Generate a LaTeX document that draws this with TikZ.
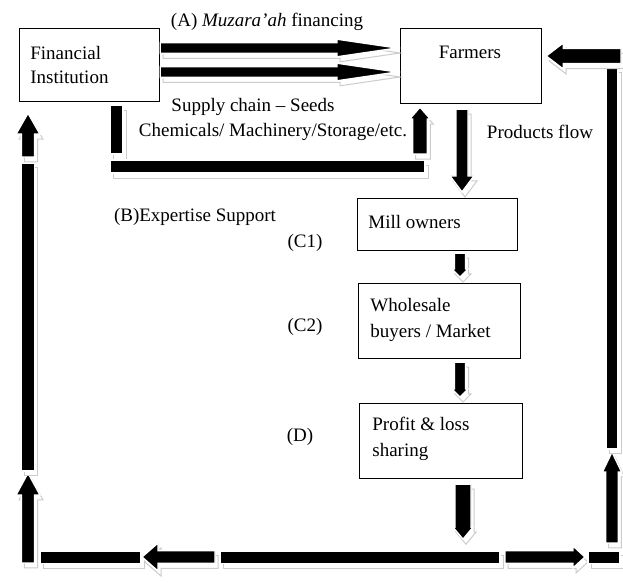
\documentclass[tikz,border=0pt]{standalone}
\usepackage{fontspec}
\setmainfont{Liberation Serif}
\usetikzlibrary{calc}
\tikzset{
  box/.style={draw, line width=0.6pt, inner sep=0pt, anchor=north west},
  lbl/.style={inner sep=0pt, font=\fontsize{9.5}{13}\selectfont},
  shadowline/.style={draw=gray!40, line width=0.5pt},
  blockfill/.style={fill=black, draw=white, line width=0.7pt},
}
% block arrow from #1 to tip #2: half shaft #3, half head #4, head length #5
\newcommand\blockarr[5]{%
  \coordinate (bah) at ($(#2)!#5!(#1)$);
  \begin{scope}[transform canvas={shift={(1.5pt,-2.5pt)}}]
    \draw[shadowline] ($(#1)!#3!90:(#2)$) -- ($(bah)!#3!90:(#2)$) -- ($(bah)!#4!90:(#2)$) -- (#2) -- ($(bah)!#4!-90:(#2)$) -- ($(bah)!#3!-90:(#2)$) -- ($(#1)!#3!-90:(#2)$) -- cycle;
  \end{scope}
  \filldraw[blockfill] ($(#1)!#3!90:(#2)$) -- ($(bah)!#3!90:(#2)$) -- ($(bah)!#4!90:(#2)$) -- (#2) -- ($(bah)!#4!-90:(#2)$) -- ($(bah)!#3!-90:(#2)$) -- ($(#1)!#3!-90:(#2)$) -- cycle;
}
% block bar between corners #1 and #2
\newcommand\blockbar[2]{%
  \begin{scope}[transform canvas={shift={(1.5pt,-2.5pt)}}]
    \draw[shadowline] (#1) rectangle (#2);
  \end{scope}
  \filldraw[blockfill] (#1) rectangle (#2);
}
\begin{document}
\begin{tikzpicture}[x=0.5pt, y=-0.5pt]
\useasboundingbox[fill=white] (0,0) rectangle (623,583);

% boxes
\node[box, minimum width=70pt, minimum height=36.5pt] (fi) at (19,28) {};
\node[box, minimum width=70.5pt, minimum height=37.5pt] (fa) at (400,28) {};
\node[box, minimum width=80pt, minimum height=26pt] (mo) at (357,198) {};
\node[box, minimum width=81pt, minimum height=37.5pt] (wb) at (358,283) {};
\node[box, minimum width=81.5pt, minimum height=37.5pt] (pl) at (359,403) {};

% box texts
\node[lbl, anchor=west, align=left, font=\fontsize{9.5}{12}\selectfont] (tfi) at (30,65) {Financial\\Institution};
\node[lbl] (tfa) at (470,52) {Farmers};
\node[lbl, anchor=west] (tmo) at (368,222) {Mill owners};
\node[lbl, anchor=west, align=left] (twb) at (370,320) {Wholesale\\buyers / Market};
\node[lbl, anchor=west, align=left] (tpl) at (372,438.5) {Profit \& loss\\sharing};

% free labels
\node[lbl] (la) at (267,22) {(A) \textit{Muzara’ah} financing};
\node[lbl] (ls1) at (253,107) {Supply chain – Seeds};
\node[lbl] (ls2) at (273,132) {Chemicals/ Machinery/Storage/etc.};
\node[lbl] (lp) at (540,132) {Products flow};
\node[lbl] (lb) at (195,217) {(B)Expertise Support};
\node[lbl] (lc1) at (305,243) {(C1)};
\node[lbl] (lc2) at (305,327) {(C2)};
\node[lbl] (ld) at (300,437) {(D)};

% (A) financing arrows
\coordinate (a1s) at ($(fi.north east)+(0,20)$);
\coordinate (a1e) at ($(fa.north west)+(-3,20)$);
\coordinate (a2s) at ($(fi.north east)+(0,44)$);
\coordinate (a2e) at ($(fa.north west)+(-3,44)$);
\blockarr{a1s}{a1e}{2.7pt}{4.4pt}{30pt}
\blockarr{a2s}{a2e}{2.7pt}{4.4pt}{30pt}

% supply chain path
\coordinate (s1a) at ($(fi.south west)+(91,3)$);
\coordinate (s1b) at ($(fi.south west)+(104,52)$);
\blockbar{s1a}{s1b}
\coordinate (s2a) at ($(fi.south west)+(91,58)$);
\coordinate (s2b) at ($(fa.south west)+(25,69)$);
\blockbar{s2a}{s2b}
\coordinate (s3a) at ($(fa.south west)+(20,50)$);
\coordinate (s3b) at ($(fa.south west)+(20,3)$);
\blockarr{s3a}{s3b}{3.7pt}{5.2pt}{6pt}

% products flow chain
\coordinate (p1a) at ($(fa.south west)+(62,5)$);
\coordinate (p1b) at ($(mo.north west)+(105,-6)$);
\blockarr{p1a}{p1b}{3pt}{6pt}{8pt}
\coordinate (p2a) at ($(mo.south west)+(103,2)$);
\coordinate (p2b) at ($(wb.north west)+(102,-6)$);
\blockarr{p2a}{p2b}{2.8pt}{4pt}{4pt}
\coordinate (p3a) at ($(wb.south west)+(102,3)$);
\coordinate (p3b) at ($(pl.north west)+(101,-6)$);
\blockarr{p3a}{p3b}{2.8pt}{4pt}{4pt}
\coordinate (p4a) at ($(pl.south west)+(104,5)$);
\coordinate (p4b) at ($(pl.south west)+(104,60)$);
\blockarr{p4a}{p4b}{4pt}{5pt}{6pt}

% bottom loop
\coordinate (b1a) at (40,551);
\coordinate (b1b) at (141,563.5);
\blockbar{b1a}{b1b}
\coordinate (bl1) at (215,557);
\coordinate (bl2) at (142,557);
\blockarr{bl1}{bl2}{3.2pt}{7pt}{8pt}
\coordinate (b2a) at (220,551);
\coordinate (b2b) at (500,563.5);
\blockbar{b2a}{b2b}
\coordinate (br1) at (505,557);
\coordinate (br2) at (585,557);
\blockarr{br1}{br2}{3.2pt}{5.5pt}{6pt}
\coordinate (b3a) at (588,551);
\coordinate (b3b) at (620,563.5);
\blockbar{b3a}{b3b}

% right side
\coordinate (r1a) at (612,543);
\coordinate (r1b) at (612,452);
\blockarr{r1a}{r1b}{3.2pt}{4.8pt}{10pt}
\coordinate (r2a) at (606,68);
\coordinate (r2b) at (618,449);
\blockbar{r2a}{r2b}
\coordinate (r3a) at (621,56);
\coordinate (r3b) at ($(fa.north east)+(4,28)$);
\blockarr{r3a}{r3b}{3.8pt}{6.5pt}{8.5pt}

% left side
\coordinate (l1a) at (28,563);
\coordinate (l1b) at (28,473);
\blockarr{l1a}{l1b}{3.3pt}{6pt}{11pt}
\coordinate (l2a) at (21.5,163);
\coordinate (l2b) at (34.5,471);
\blockbar{l2a}{l2b}
\coordinate (l3a) at (28,157);
\coordinate (l3b) at ($(fi.south west)+(9,11)$);
\blockarr{l3a}{l3b}{3.3pt}{6pt}{10.5pt}
\end{tikzpicture}
\end{document}
